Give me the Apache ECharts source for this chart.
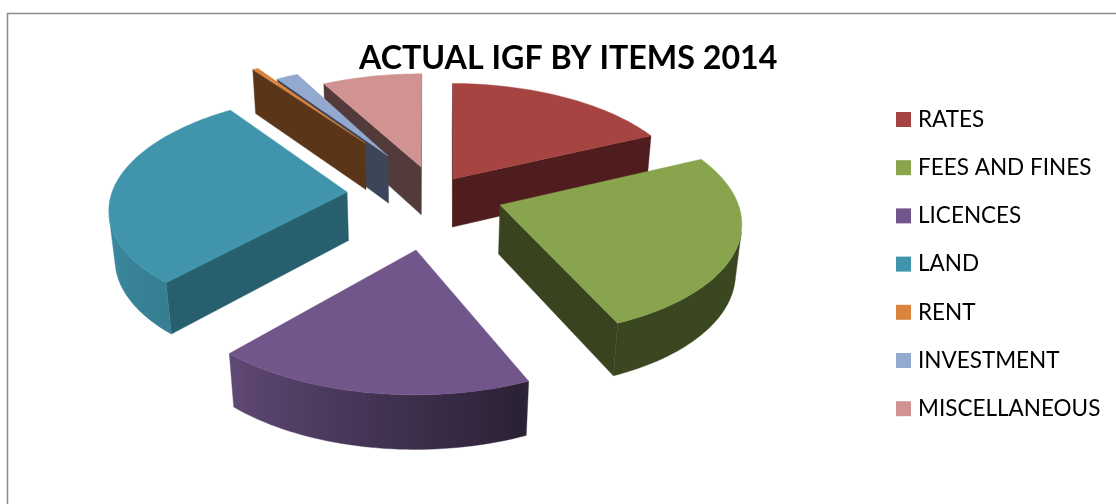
<!DOCTYPE html>
<html>
<head>
<meta charset="utf-8">
<title>Actual IGF by items 2014</title>
<style>html,body{margin:0;padding:0;background:#fff}#chart{width:1116px;height:504px}</style>
<script src="https://cdn.jsdelivr.net/npm/echarts@6/dist/echarts.min.js"></script>
</head>
<body>
<div id="chart"></div>
<script>
// Share of internally generated funds per item, in percent.
const categories = ['RATES', 'FEES AND FINES', 'LICENCES', 'LAND', 'RENT', 'INVESTMENT', 'MISCELLANEOUS'];
const shares = [17.83, 25.42, 18.19, 28.5, 0.45, 1.75, 7.86];

// Slice appearance: top colour and colour of the straight cut walls.
const topColors = ['#A64441', '#88A44D', '#71568B', '#4095AD', '#DB843D', '#93A9CF', '#D19392'];
const wallColors = ['#4F1D1D', '#3A431F', '#2A2038', '#285F6E', '#5A3518', '#3D4559', '#533A3B'];

// How far each slice is pulled out of the pie, in radii: sideways and away from the viewer.
const pullAcross = [0.1274, 0.3208, -0.0299, -0.3252, -0.2635, -0.1575, -0.0109];
const pullAway = [0.2526, 0.0175, -0.3588, 0.1333, 0.602, 0.4727, 0.366];

// Small extra rotation of individual slices, in degrees.
const sliceTurn = [0, 0, 0, 0, 0, 0, -0.7];

// Back-to-front painting order (index into categories).
const paintOrder = [0, 6, 5, 4, 3, 1, 2];

// First slice begins this many degrees past twelve o'clock.
const startAngle = 0.8;

// Perspective camera for the tilted disc.
const view = { cx: 423.5, cy: 207, a: 239, b: 114.4, persp: 0.127, thick: 50, thickPersp: 0.02 };

// Brightness of the curved rim by angle clockwise from twelve o'clock.
const rimLight = [[0, 0.43], [156, 0.43], [158, 0.38], [221, 0.84], [270, 0.96], [361, 0.96]];

const total = shares.reduce((s, v) => s + v, 0);
const rad = d => d * Math.PI / 180;

function project(X, Y, Z) {
  const w = 1 + view.persp * Y + view.thickPersp * Z;
  return [view.cx + view.a * X / w, view.cy - (view.b * Y - view.thick * Z) / w];
}

function shade(hex, f) {
  const n = parseInt(hex.slice(1), 16);
  const c = [n >> 16 & 255, n >> 8 & 255, n & 255].map(v => Math.round(v * f));
  return 'rgb(' + c.join(',') + ')';
}

function lightAt(deg) {
  for (let i = 1; i < rimLight.length; i++) {
    if (deg <= rimLight[i][0]) {
      const p = rimLight[i - 1], q = rimLight[i];
      return p[1] + (q[1] - p[1]) * (deg - p[0]) / (q[0] - p[0]);
    }
  }
  return rimLight[rimLight.length - 1][1];
}

function faces(p) {
  let s = 0;
  for (let i = 0; i < p.length; i++) {
    const q = p[(i + 1) % p.length];
    s += p[i][0] * q[1] - q[0] * p[i][1];
  }
  return s < 0;
}

function face(points, fill) {
  return {
    type: 'polygon',
    shape: { points: points },
    style: { fill: fill, stroke: fill, lineWidth: 0.4 }
  };
}

// Curved rim as one shape, brightness running horizontally across it.
function rimFace(index, angles, onRim) {
  const shown = [];
  for (let i = 0; i + 1 < angles.length; i++) {
    const strip = [onRim(angles[i], 0), onRim(angles[i + 1], 0), onRim(angles[i + 1], 1), onRim(angles[i], 1)];
    if (faces(strip)) shown.push(i, i + 1);
  }
  if (!shown.length) return null;
  const first = Math.min.apply(null, shown), last = Math.max.apply(null, shown);
  const visible = angles.slice(first, last + 1);
  const edge = visible.map(d => onRim(d, 0));
  const xs = edge.map(p => p[0]);
  const x0 = Math.min.apply(null, xs), x1 = Math.max.apply(null, xs);
  const stops = visible.map((d, i) => ({
    offset: (xs[i] - x0) / Math.max(1, x1 - x0),
    color: shade(topColors[index], lightAt(d))
  })).sort((p, q) => p.offset - q.offset);
  const outline = edge.concat(visible.slice().reverse().map(d => onRim(d, 1)));
  return face(outline, { type: 'linear', x: x0, y: 0, x2: x1, y2: 0, global: true, colorStops: stops });
}

function sliceGraphics(index) {
  const before = shares.slice(0, index).reduce((s, v) => s + v, 0);
  const from = startAngle + sliceTurn[index] + before / total * 360;
  const to = startAngle + sliceTurn[index] + (before + shares[index]) / total * 360;
  const ox = pullAcross[index];
  const oy = pullAway[index];
  const steps = Math.max(2, Math.ceil((to - from) / 1.5));

  const angles = [];
  for (let i = 0; i <= steps; i++) angles.push(from + (to - from) * i / steps);
  const onRim = (deg, z) => project(ox + Math.sin(rad(deg)), oy + Math.cos(rad(deg)), z);
  const hub = z => project(ox, oy, z);

  const children = [];
  const wall = (a, b) => {
    const pts = [a(0), b(0), b(1), a(1)];
    if (faces(pts)) children.push(face(pts, wallColors[index]));
  };
  wall(hub, z => onRim(from, z));
  wall(z => onRim(to, z), hub);
  const rim = rimFace(index, angles, onRim);
  if (rim) children.push(rim);
  children.push(face([hub(0)].concat(angles.map(d => onRim(d, 0))), topColors[index]));
  return { type: 'group', children: children };
}

const series = categories.map((name, i) => ({
  type: 'custom',
  name: name,
  coordinateSystem: 'none',
  z: 2 + paintOrder.indexOf(i),
  silent: true,
  animation: false,
  itemStyle: { color: topColors[i] },
  data: [shares[i]],
  renderItem: () => sliceGraphics(i)
}));

const chart = echarts.init(document.getElementById('chart'), null, { renderer: 'canvas' });
chart.setOption({
  animation: false,
  backgroundColor: '#ffffff',
  title: {
    text: 'ACTUAL IGF BY ITEMS 2014',
    left: 354,
    top: 38,
    textStyle: { fontFamily: 'Lato', fontSize: 32.2, fontWeight: 'bold', color: '#000000' }
  },
  legend: {
    orient: 'vertical',
    left: 896,
    top: 108,
    padding: 0,
    icon: 'rect',
    itemWidth: 15,
    itemHeight: 15,
    itemGap: 25.2,
    data: categories,
    textStyle: { fontFamily: 'Lato', fontSize: 22.5, color: '#000000', padding: [0, 0, 0, 2] },
    selectedMode: false
  },
  graphic: [{
    type: 'polyline',
    silent: true,
    shape: { points: [[7.5, 504], [7.5, 13.5], [1116, 13.5]] },
    style: { fill: null, stroke: '#8c8c8c', lineWidth: 1.5 }
  }],
  series: series
});
</script>
</body>
</html>
